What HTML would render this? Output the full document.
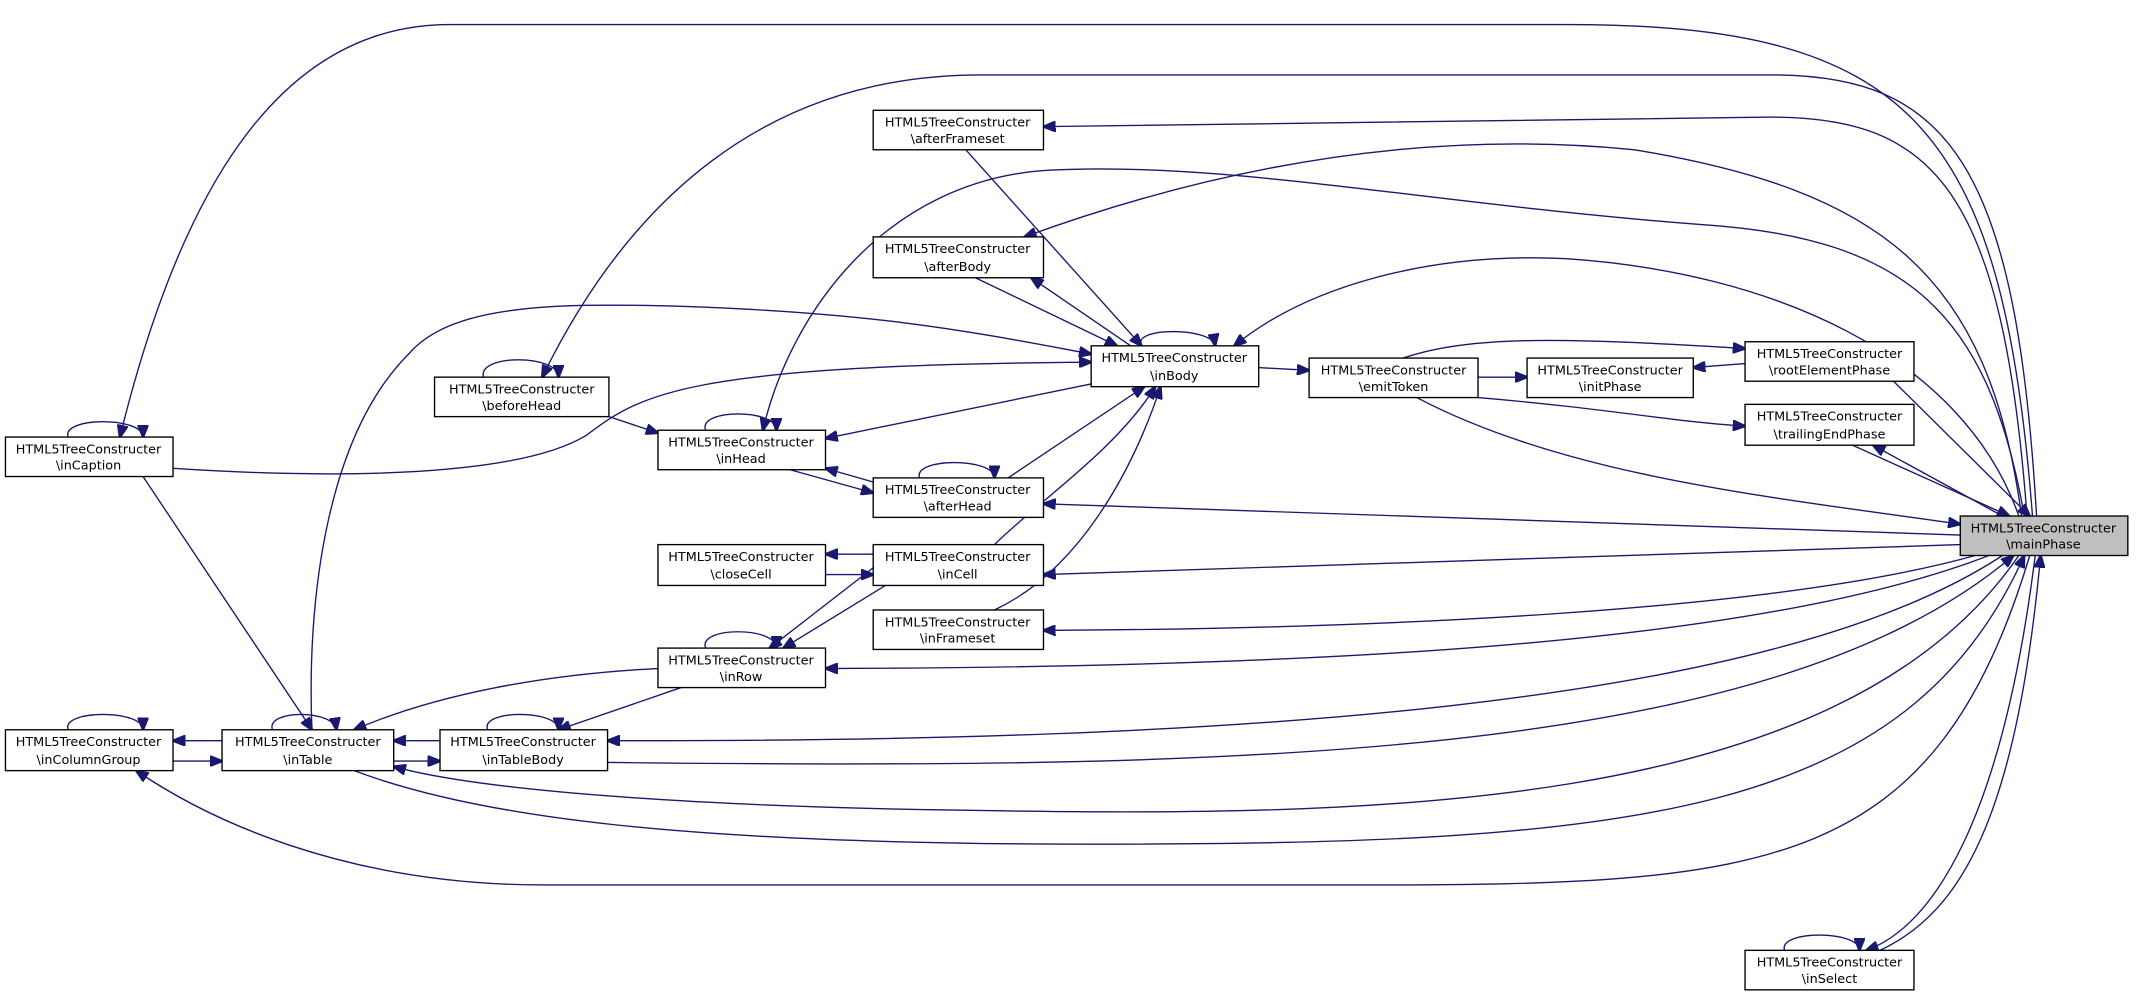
<!DOCTYPE html>
<html><head><meta charset="utf-8"><style>
html,body{margin:0;padding:0;background:#fff;}
svg{display:block;}
text{font-family:"DejaVu Sans","Liberation Sans",sans-serif;font-size:9.4px;fill:#000;text-anchor:middle;}
.e{fill:none;stroke:#191970;stroke-width:1;}
.b{fill:#fff;stroke:#000;stroke-width:1;}
</style></head><body>
<svg width="2136" height="998" viewBox="0 0 1568 733" preserveAspectRatio="none" xmlns="http://www.w3.org/2000/svg">
<defs>
<marker id="a" markerUnits="userSpaceOnUse" markerWidth="10" markerHeight="8" refX="9" refY="4" orient="auto"><path d="M0,0 L10,4 L0,8 z" fill="#191970" stroke="#191970"/></marker>
</defs>
<g class="e" marker-end="url(#a)">
<path d="M1492,379 C1470,90 1400,18 1150,18 L330,18 C200,18 130,150 88,321"/>
<path d="M1495,379 C1480,120 1430,55 1300,55 L720,55 C560,55 460,150 398,277"/>
<path d="M1488,379 C1470,140 1420,86 1300,86 L766,93"/>
<path d="M1486,379 C1460,230 1400,175 1250,165 C1050,150 900,118 770,125 C650,132 580,230 560,316"/>
<path d="M1484,379 C1460,200 1380,140 1200,110 C1050,95 900,120 752,174"/>
<path d="M1482,379 C1440,260 1300,200 1150,190 C1050,185 960,210 906,254"/>
<path d="M127,344 C250,352 380,350 430,320 C470,290 500,268 801,266"/>
<path d="M229,536 C225,440 240,320 300,260 C330,225 400,222 500,225 C650,230 720,245 801,260"/>
<path d="M709,110 L838,254"/>
<path d="M716,204 L820,254"/>
<path d="M830,254 L757,204"/>
<path d="M838,254 C830,240 890,240 892,254"/>
<path d="M801,282 L606,322"/>
<path d="M447,306 L483,318"/>
<path d="M518,316 C512,300 570,300 570,316"/>
<path d="M355,277 C350,260 410,260 410,277"/>
<path d="M740,351 L840,284"/>
<path d="M580,345 L641,362"/>
<path d="M641,354 L606,344"/>
<path d="M675,351 C670,336 730,336 730,351"/>
<path d="M730,400 C760,370 820,330 848,284"/>
<path d="M730,448 C790,420 830,350 852,284"/>
<path d="M924,270 L961,272"/>
<path d="M1085,277 L1121,277"/>
<path d="M1281,267 L1243,270"/>
<path d="M1030,263 C1080,246 1150,248 1281,256"/>
<path d="M1085,292 C1180,300 1230,310 1281,313"/>
<path d="M1040,292 C1150,350 1300,365 1439,385"/>
<path d="M1390,280 L1490,379"/>
<path d="M1360,327 L1475,379"/>
<path d="M1470,379 L1375,327"/>
<path d="M1439,393 L766,370"/>
<path d="M1439,400 L766,422"/>
<path d="M1450,408 C1300,450 1000,462 766,463"/>
<path d="M1460,408 C1300,470 1000,490 606,491"/>
<path d="M1470,408 C1300,520 900,545 446,544"/>
<path d="M446,560 C900,565 1300,560 1478,408"/>
<path d="M1482,408 C1350,600 1000,600 700,595 C500,592 350,580 289,563"/>
<path d="M260,566 C350,600 500,620 800,620 C1200,620 1400,600 1486,408"/>
<path d="M1490,408 C1420,640 1300,650 1000,650 L400,650 C250,650 150,600 100,566"/>
<path d="M1494,408 C1470,600 1420,680 1370,698"/>
<path d="M1380,698 C1440,670 1480,600 1498,408"/>
<path d="M1310,698 C1305,683 1365,683 1365,698"/>
<path d="M641,407 L606,407"/>
<path d="M606,422 L641,422"/>
<path d="M641,417 L565,476"/>
<path d="M650,430 L575,476"/>
<path d="M518,476 C512,460 570,460 570,476"/>
<path d="M500,505 L410,536"/>
<path d="M483,491 C400,495 320,510 260,536"/>
<path d="M323,544 L289,544"/>
<path d="M289,559 L323,559"/>
<path d="M163,544 L127,544"/>
<path d="M127,559 L163,559"/>
<path d="M105,350 L229,536"/>
<path d="M200,536 C195,521 245,521 247,536"/>
<path d="M358,536 C352,521 410,521 410,536"/>
<path d="M50,536 C45,521 105,521 105,536"/>
<path d="M50,321 C45,306 105,306 105,321"/>
</g>
<g>
<rect class="b" x="641" y="81" width="125" height="29"/><text x="703" y="93">HTML5TreeConstructer</text><text x="703" y="105">\afterFrameset</text>
<rect class="b" x="641" y="174" width="125" height="30"/><text x="703" y="186">HTML5TreeConstructer</text><text x="703" y="199">\afterBody</text>
<rect class="b" x="801" y="254" width="123" height="30"/><text x="862" y="266">HTML5TreeConstructer</text><text x="862" y="279">\inBody</text>
<rect class="b" x="319" y="277" width="128" height="29"/><text x="383" y="289">HTML5TreeConstructer</text><text x="383" y="301">\beforeHead</text>
<rect class="b" x="4" y="321" width="123" height="29"/><text x="65" y="333">HTML5TreeConstructer</text><text x="65" y="345">\inCaption</text>
<rect class="b" x="483" y="316" width="123" height="29"/><text x="544" y="328">HTML5TreeConstructer</text><text x="544" y="340">\inHead</text>
<rect class="b" x="641" y="351" width="125" height="29"/><text x="703" y="363">HTML5TreeConstructer</text><text x="703" y="375">\afterHead</text>
<rect class="b" x="961" y="263" width="124" height="29"/><text x="1023" y="275">HTML5TreeConstructer</text><text x="1023" y="287">\emitToken</text>
<rect class="b" x="1121" y="263" width="122" height="29"/><text x="1182" y="275">HTML5TreeConstructer</text><text x="1182" y="287">\initPhase</text>
<rect class="b" x="1281" y="251" width="124" height="29"/><text x="1343" y="263">HTML5TreeConstructer</text><text x="1343" y="275">\rootElementPhase</text>
<rect class="b" x="1281" y="297" width="124" height="30"/><text x="1343" y="309">HTML5TreeConstructer</text><text x="1343" y="322">\trailingEndPhase</text>
<rect x="1439" y="379" width="123" height="29" fill="#bfbfbf" stroke="#000"/><text x="1500" y="391">HTML5TreeConstructer</text><text x="1500" y="403">\mainPhase</text>
<rect class="b" x="483" y="400" width="123" height="30"/><text x="544" y="412">HTML5TreeConstructer</text><text x="544" y="425">\closeCell</text>
<rect class="b" x="641" y="400" width="125" height="30"/><text x="703" y="412">HTML5TreeConstructer</text><text x="703" y="425">\inCell</text>
<rect class="b" x="641" y="448" width="125" height="29"/><text x="703" y="460">HTML5TreeConstructer</text><text x="703" y="472">\inFrameset</text>
<rect class="b" x="483" y="476" width="123" height="29"/><text x="544" y="488">HTML5TreeConstructer</text><text x="544" y="500">\inRow</text>
<rect class="b" x="4" y="536" width="123" height="30"/><text x="65" y="548">HTML5TreeConstructer</text><text x="65" y="561">\inColumnGroup</text>
<rect class="b" x="163" y="536" width="126" height="30"/><text x="226" y="548">HTML5TreeConstructer</text><text x="226" y="561">\inTable</text>
<rect class="b" x="323" y="536" width="123" height="30"/><text x="384" y="548">HTML5TreeConstructer</text><text x="384" y="561">\inTableBody</text>
<rect class="b" x="1281" y="698" width="124" height="29"/><text x="1343" y="710">HTML5TreeConstructer</text><text x="1343" y="722">\inSelect</text>
</g>
</svg>
</body></html>
